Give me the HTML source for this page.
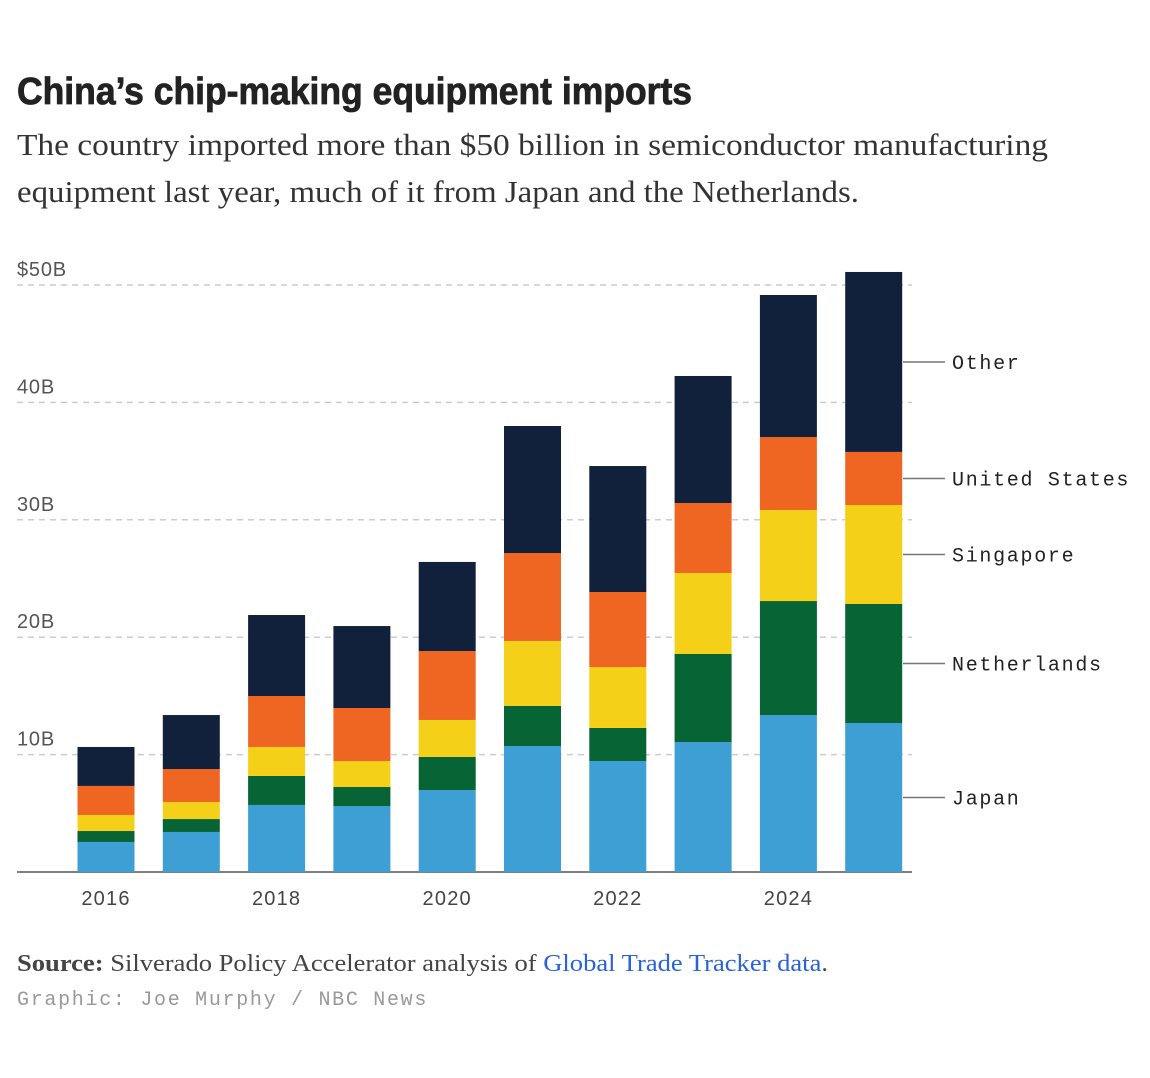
<!DOCTYPE html>
<html><head><meta charset="utf-8"><style>
html,body{margin:0;padding:0;background:#fff;}
svg{display:block;}
</style></head><body>
<svg id="chart" width="1150" height="1078" xmlns="http://www.w3.org/2000/svg">
<text x="17" y="104" font-family="Liberation Sans, sans-serif" font-weight="bold" font-size="38" fill="#222" stroke="#222" stroke-width="0.8" textLength="675" lengthAdjust="spacingAndGlyphs">China’s chip-making equipment imports</text>
<text x="17" y="155" font-family="Liberation Serif, serif" font-size="31" fill="#333" textLength="1031" lengthAdjust="spacingAndGlyphs">The country imported more than $50 billion in semiconductor manufacturing</text>
<text x="17" y="202" font-family="Liberation Serif, serif" font-size="31" fill="#333" textLength="842" lengthAdjust="spacingAndGlyphs">equipment last year, much of it from Japan and the Netherlands.</text>
<g id="grid"></g>
<g id="bars"></g>
<g id="labels"></g>
<text x="17" y="971" font-family="Liberation Serif, serif" font-size="24" fill="#444" textLength="811" lengthAdjust="spacingAndGlyphs"><tspan font-weight="bold">Source:</tspan> Silverado Policy Accelerator analysis of <tspan fill="#2962d9">Global Trade Tracker data</tspan>.</text>
<text x="17" y="1005" font-family="Liberation Mono, monospace" font-size="20" fill="#999" letter-spacing="1.7">Graphic: Joe Murphy / NBC News</text>
</svg>
<script>
const years = [2016,2017,2018,2019,2020,2021,2022,2023,2024,2025];
const japan = [2.56,3.41,5.71,5.62,6.98,10.73,9.45,11.07,13.37,12.69];
const netherlands = [0.93,1.10,2.47,1.62,2.82,3.41,2.82,7.50,9.71,10.14];
const singapore = [1.37,1.45,2.47,2.21,3.15,5.54,5.19,6.90,7.75,8.43];
const unitedStates = [2.47,2.81,4.34,4.52,5.87,7.49,6.39,5.96,6.22,4.52];
const other = [3.32,4.60,6.90,6.98,7.59,10.82,10.73,10.82,12.10,15.33];
const seriesNames = ["Japan","Netherlands","Singapore","United States","Other"];
const seriesColors = ["#3d9fd3","#066435","#f5d018","#ef6622","#12213b"];
const yTicks = [10,20,30,40,50];
const yTickLabels = ["10B","20B","30B","40B","$50B"];
const xTickLabels = ["2016","","2018","","2020","","2022","","2024",""];
const series = [japan,netherlands,singapore,unitedStates,other];
const NS="http://www.w3.org/2000/svg";
const y0=872, pxPer=11.74;
function yS(v){return y0-v*pxPer;}
function xS(i){return 106+i*85.3;}
const bw=57;
function mk(tag,attrs,parent){const e=document.createElementNS(NS,tag);for(const k in attrs)e.setAttribute(k,attrs[k]);parent.appendChild(e);return e;}
const grid=document.getElementById('grid'),bars=document.getElementById('bars'),labels=document.getElementById('labels');
yTicks.forEach((t,i)=>{
 const l=mk('line',{x1:17,x2:912,y1:yS(t),y2:yS(t),stroke:'#ccc','stroke-width':1.5,'stroke-dasharray':'6,5'},grid);
 
 
 const tx=mk('text',{x:17,y:yS(t)-9,'font-family':'Liberation Sans, sans-serif','font-size':20,'letter-spacing':0.8,fill:'#555'},grid);
 tx.textContent=yTickLabels[i];
 
 
});
years.forEach((yr,i)=>{
 let cum=0;
 series.forEach((s,k)=>{
  const r=mk('rect',{x:xS(i)-bw/2,y:yS(cum+s[i]),width:bw,height:s[i]*pxPer,fill:seriesColors[k]},bars);
  
  
  cum+=s[i];
 });
 if(xTickLabels[i]){
  const t=mk('text',{x:xS(i),y:905,'text-anchor':'middle','font-family':'Liberation Sans, sans-serif','font-size':20,'letter-spacing':1.2,fill:'#444'},labels);
  t.textContent=xTickLabels[i];
  
  
 }
});
const ax=mk('line',{x1:17,x2:912,y1:y0,y2:y0,stroke:'#555','stroke-width':1.5},grid);


const last=years.length-1;let cum=0;
series.forEach((s,k)=>{
 const mid=yS(cum+s[last]/2);cum+=s[last];
 const l=mk('line',{x1:903,x2:945,y1:mid,y2:mid,stroke:'#777','stroke-width':1.5},labels);
 
 
 const t=mk('text',{x:952,y:mid+7,'font-family':'Liberation Mono, monospace','font-size':20,'letter-spacing':1.7,fill:'#222'},labels);
 t.textContent=seriesNames[k];
 
 
});
</script>
</body></html>
